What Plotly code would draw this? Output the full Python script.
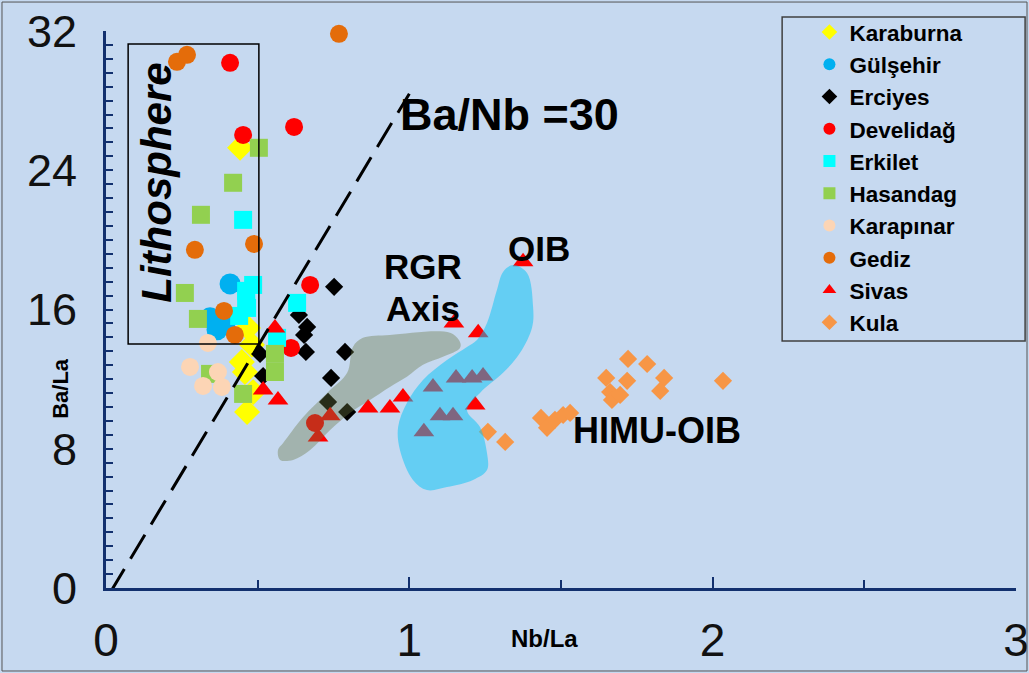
import plotly.graph_objects as go

# ---------------- data (Nb/La, Ba/La) ----------------
karaburna_x = [0.442, 0.468, 0.481, 0.448, 0.458, 0.485, 0.465]
karaburna_y = [25.29, 14.94, 13.97, 12.99, 12.41, 11.26, 10.11]

gulsehir_x = [0.409, 0.343, 0.366, 0.392]
gulsehir_y = [17.47, 15.52, 14.83, 15.17]

erciyes_x = [0.752, 0.636, 0.663, 0.653, 0.659, 0.788, 0.508, 0.518, 0.742, 0.732, 0.795]
erciyes_y = [17.30, 15.69, 15.00, 14.54, 13.56, 13.56, 13.45, 12.18, 12.07, 10.69, 10.11]

develidag_x = [0.409, 0.452, 0.620, 0.673, 0.610, 0.689]
develidag_y = [30.17, 26.03, 26.49, 17.41, 13.79, 9.48]

erkilet_x = [0.452, 0.485, 0.462, 0.462, 0.465, 0.439, 0.630, 0.564]
erkilet_y = [21.15, 17.41, 17.07, 16.55, 16.09, 15.63, 16.38, 14.37]

hasandag_x = [0.504, 0.419, 0.313, 0.260, 0.303, 0.557, 0.557, 0.452, 0.343]
hasandag_y = [25.29, 23.28, 21.44, 16.95, 15.46, 13.45, 12.41, 11.15, 12.30]

karapinar_x = [0.336, 0.277, 0.369, 0.320, 0.382]
karapinar_y = [14.08, 12.70, 12.41, 11.61, 11.55]

gediz_x = [0.234, 0.267, 0.768, 0.293, 0.488, 0.389, 0.425]
gediz_y = [30.23, 30.63, 31.84, 19.43, 19.77, 15.92, 14.54]

sivas_x = [0.557, 0.518, 0.567, 0.739, 0.699, 0.864, 0.936, 0.979, 1.147, 1.375,
           1.217, 1.227, 1.078, 1.154, 1.207, 1.243, 1.101, 1.144, 1.048]
sivas_y = [14.94, 11.38, 10.80, 9.89, 8.68, 10.34, 10.34, 10.98, 15.23, 18.74,
           10.52, 14.66, 11.55, 12.07, 12.07, 12.18, 9.89, 9.89, 8.97]

kula_x = [1.259, 1.316, 1.434, 1.454, 1.480, 1.507, 1.530, 1.649, 1.662, 1.668,
          1.695, 1.721, 1.718, 1.784, 1.840, 1.827, 2.034]
kula_y = [8.97, 8.39, 9.77, 9.20, 9.66, 9.94, 10.06, 12.07, 11.26, 10.80,
          11.09, 13.16, 11.90, 12.87, 12.07, 11.32, 11.90]

# RGR axis field outline
rgr_x = [0.567, 0.584, 0.650, 0.729, 0.795, 0.814, 0.847, 0.936, 1.134, 1.167, 1.167,
         1.111, 1.045, 0.992, 0.936, 0.870, 0.804, 0.739, 0.673, 0.617, 0.574]
rgr_y = [7.93, 8.33, 9.83, 11.21, 12.36, 13.85, 14.37, 14.54, 14.66, 14.14, 13.79,
         13.28, 12.82, 12.13, 11.55, 10.80, 10.06, 9.08, 7.93, 7.36, 7.36]

# OIB field outline
oib_x = [1.342, 1.388, 1.408, 1.405, 1.365, 1.309, 1.233, 1.190, 1.233, 1.256, 1.256,
         1.210, 1.124, 1.058, 1.012, 0.969, 0.963, 0.992, 1.045, 1.124, 1.190, 1.223,
         1.256, 1.289, 1.309]
oib_y = [18.56, 18.10, 16.15, 15.00, 13.51, 12.36, 11.21, 10.23, 9.25, 7.76, 6.78,
         6.21, 5.80, 5.63, 6.21, 7.93, 9.25, 10.63, 11.95, 13.10, 13.85, 14.25,
         15.23, 17.13, 18.16]

# Ba/Nb = 30 reference line
line_x = [0.013, 1.0]
line_y = [-0.29, 28.4]

# Lithosphere box
litho_x = [0.073, 0.504]
litho_y = [14.02, 31.26]

x_ticks = [0, 1, 2, 3]
y_ticks = [0, 8, 16, 24, 32]

BG = "#C6D9F0"

series = [
    ("Karaburna", karaburna_x, karaburna_y, "diamond", "#FFFF00", 20),
    ("Gülşehir", gulsehir_x, gulsehir_y, "circle", "#00B0F0", 21),
    ("Erciyes", erciyes_x, erciyes_y, "diamond", "#000000", 14),
    ("Develidağ", develidag_x, develidag_y, "circle", "#FF0000", 18),
    ("Erkilet", erkilet_x, erkilet_y, "square", "#00FFFF", 18),
    ("Hasandag", hasandag_x, hasandag_y, "square", "#92D050", 18),
    ("Karapınar", karapinar_x, karapinar_y, "circle", "#FCD5B5", 18),
    ("Gediz", gediz_x, gediz_y, "circle", "#E46C0A", 18),
    ("Sivas", sivas_x, sivas_y, "triangle-up", "#FF0000", 18),
    ("Kula", kula_x, kula_y, "diamond", "#F79646", 14),
]

fig = go.Figure()
for name, xs, ys, sym, col, sz in series:
    fig.add_trace(go.Scatter(
        x=xs, y=ys, mode="markers", name=name, cliponaxis=False,
        marker=dict(symbol=sym, color=col, size=sz, line=dict(width=0)),
    ))

fig.add_trace(go.Scatter(
    x=rgr_x + rgr_x[:1], y=rgr_y + rgr_y[:1], mode="lines", fill="toself",
    line=dict(width=0, shape="spline", smoothing=1.0),
    fillcolor="rgba(105,118,66,0.38)", showlegend=False, hoverinfo="skip"))
fig.add_trace(go.Scatter(
    x=oib_x + oib_x[:1], y=oib_y + oib_y[:1], mode="lines", fill="toself",
    line=dict(width=0, shape="spline", smoothing=1.0),
    fillcolor="rgba(10,196,246,0.52)", showlegend=False, hoverinfo="skip"))
fig.add_trace(go.Scatter(
    x=line_x, y=line_y, mode="lines",
    line=dict(color="black", width=3, dash="28px,12px"),
    showlegend=False, hoverinfo="skip"))

fig.add_shape(type="rect", xref="x", yref="y",
              x0=litho_x[0], x1=litho_x[1], y0=litho_y[0], y1=litho_y[1],
              line=dict(color="black", width=1.5))

# legend frame and outer frame
fig.add_shape(type="rect", xref="paper", yref="paper",
              x0=0.743, x1=1.010, y0=0.4434, y1=1.0251,
              line=dict(color="#404040", width=1.5))
fig.add_shape(type="rect", xref="paper", yref="paper",
              x0=-0.1143, x1=1.0121, y0=-0.149, y1=1.052,
              line=dict(color="#555555", width=1))

bold = "Liberation Sans, Arial, sans-serif"
fig.add_annotation(x=0.168, y=23.28, xref="x", yref="y", text="<b><i>Lithosphere</i></b>",
                   textangle=-90, showarrow=False, font=dict(family=bold, size=42, color="black"))
fig.add_annotation(x=1.329, y=27.18, xref="x", yref="y", text="<b>Ba/Nb =30</b>",
                   showarrow=False, font=dict(family=bold, size=45, color="black"))
fig.add_annotation(x=1.045, y=18.45, xref="x", yref="y", text="<b>RGR</b>",
                   showarrow=False, font=dict(family=bold, size=35, color="black"))
fig.add_annotation(x=1.045, y=16.05, xref="x", yref="y", text="<b>Axis</b>",
                   showarrow=False, font=dict(family=bold, size=35, color="black"))
fig.add_annotation(x=1.428, y=19.5, xref="x", yref="y", text="<b>OIB</b>",
                   showarrow=False, font=dict(family=bold, size=35, color="black"))
fig.add_annotation(x=1.817, y=9.05, xref="x", yref="y", text="<b>HIMU-OIB</b>",
                   showarrow=False, font=dict(family=bold, size=36, color="black"))
fig.add_annotation(x=-0.066, y=0.30, xref="paper", yref="paper", text="<b>Ba/La</b>",
                   textangle=-90, showarrow=False, font=dict(family=bold, size=22, color="black"))
fig.add_annotation(x=0.4824, y=-0.119, xref="paper", yref="paper", text="<b>Nb/La</b>",
                   showarrow=False,
                   font=dict(family="Liberation Sans Narrow, Liberation Sans, Arial", size=24, color="black"))

AX = "#12306E"
fig.update_xaxes(range=[0, 3], tickvals=x_ticks, showline=True, linecolor=AX, linewidth=3,
                 ticks="inside", ticklen=11, tickwidth=2, tickcolor=AX,
                 minor=dict(dtick=0.5, ticks="inside", ticklen=8, tickwidth=2, tickcolor=AX),
                 showgrid=False, zeroline=False, ticklabelstandoff=10, ticklabeloverflow="allow",
                 tickfont=dict(family="Liberation Sans Narrow, Liberation Sans, Arial", size=46, color="#111111"))
fig.update_yaxes(range=[0, 32], tickvals=y_ticks, showline=True, linecolor=AX, linewidth=3,
                 ticks="inside", ticklen=7, tickwidth=2, tickcolor=AX,
                 minor=dict(dtick=0.8, ticks="inside", ticklen=7, tickwidth=2, tickcolor=AX),
                 showgrid=False, zeroline=False, ticklabelstandoff=17, ticklabeloverflow="allow",
                 tickfont=dict(family="Liberation Sans, Arial", size=45, color="#111111"))

fig.update_layout(
    width=1029, height=673,
    margin=dict(l=106, r=13, t=31, b=85, autoexpand=False),
    paper_bgcolor=BG, plot_bgcolor=BG,
    showlegend=True,
    legend=dict(x=0.773, y=1.036, xanchor="left", yanchor="top",
                bgcolor="rgba(0,0,0,0)", borderwidth=0, itemsizing="constant",
                font=dict(family=bold, size=22.5, color="black", weight="bold"),
                tracegroupgap=0),
)

fig.write_html("out.html", config={"displayModeBar": False},
               post_script="document.body.style.margin='0px';")
